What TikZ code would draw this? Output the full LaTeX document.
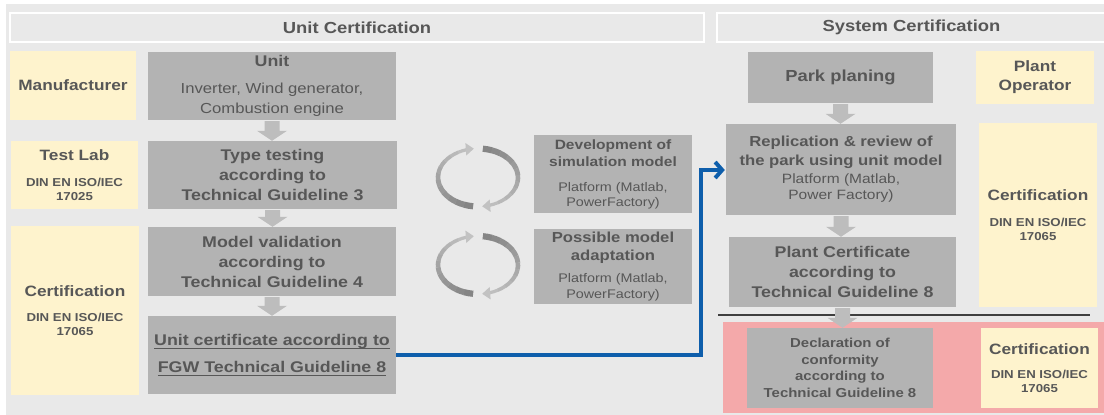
\documentclass[tikz,border=0pt]{standalone}
\usepackage{fontspec}
\setmainfont{Liberation Sans}[FakeStretch=1.15]
\usetikzlibrary{arrows.meta,calc}

\definecolor{bg}{HTML}{E9E9E9}
\definecolor{boxgrey}{HTML}{B3B3B3}
\definecolor{arrgrey}{HTML}{BDBDBD}
\definecolor{roleyellow}{HTML}{FEF3CD}
\definecolor{txt}{HTML}{575757}
\definecolor{conf}{HTML}{F4A9AA}
\definecolor{flow}{HTML}{0E5EAB}
\definecolor{sepdark}{HTML}{3F3F3F}
\definecolor{loopdark}{HTML}{858585}
\definecolor{looplight}{HTML}{C2C2C2}

% underlined text with a thicker rule
\newcommand\ulin[1]{\setbox0=\hbox{#1}\rlap{\rule[-3.5pt]{\wd0}{1.3pt}}\box0}
\newcommand\rolehead{\fontsize{15}{15}\selectfont}
\newcommand\devhead{\fontsize{13.5}{15}\selectfont\bfseries}
\newcommand\posshead{\fontsize{14.5}{15}\selectfont\bfseries}
\newcommand\replhead{\fontsize{14.5}{17}\selectfont\bfseries}

% broad grey arrow from the bottom of one box to the top of the next
\newcommand\blockarrow[2]{%
  \path (#1.south) coordinate (ba-s) (#2.north) coordinate (ba-e);
  \coordinate (ba-t) at (ba-s|-ba-e);
  \fill[arrgrey] ($(ba-s)+(-7.5,1)$) -- ($(ba-t)+(-7.5,-10)$) -- ($(ba-t)+(-15,-10)$)
    -- (ba-t) -- ($(ba-t)+(15,-10)$) -- ($(ba-t)+(7.5,-10)$) -- ($(ba-s)+(7.5,1)$) -- cycle;}

% one tapered arc arrow around a centre, darker and wider at its start
\newcommand\taperarc[2]{% #1 centre, #2 start angle
  \foreach \i in {0,...,11} {
    \pgfmathsetmacro\ta{#2+\i*13}
    \pgfmathsetmacro\tb{\ta+13.5}
    \pgfmathsetmacro\tw{6.2-\i*0.27}
    \pgfmathsetmacro\tm{100-\i*8.5}
    \draw[loopdark!\tm!looplight, line width=\tw pt] (#1) ++(\ta:40 and 29)
      arc[start angle=\ta, end angle=\tb, x radius=40, y radius=29];
  }
  \pgfmathsetmacro\tc{#2+155}
  \pgfmathsetmacro\td{#2+167}
  \draw[looplight, line width=3pt, -{Triangle[width=12pt,length=8pt]}] (#1) ++(\tc:40 and 29)
    arc[start angle=\tc, end angle=\td, x radius=40, y radius=29];}

% pair of circling arrows
\newcommand\looparrows[1]{\taperarc{#1}{97}\taperarc{#1}{-83}}

\begin{document}
\begin{tikzpicture}[x=1pt,y=-1pt,
  base/.style={inner sep=0pt, align=center, text=txt},
  stepbox/.style={base, fill=boxgrey},
  rolebox/.style={base, fill=roleyellow},
  header/.style={draw=white, line width=2.5pt, fill=bg, text=txt, inner sep=0pt,
    font=\fontsize{16}{16}\selectfont\bfseries},
  sz/.style 2 args={minimum width=#1pt, minimum height=#2pt},
  flowline/.style={draw=flow, line width=4pt, -{Straight Barb[length=7pt,width=16pt]}},
  rolesmall/.style={font=\fontsize{11.5}{14}\selectfont\bfseries}]

\useasboundingbox (0,0) rectangle (1104,415);
\fill[white] (0,0) rectangle (1104,415);
\fill[bg] (6,4) rectangle (1104,415);

% section headers
\node[header, sz={694}{29}] (unithead) at (357,27.5) {Unit Certification};
\node[header, sz={389}{29}] (syshead) at (911.5,27.5) {System Certification};

% conformity zone and separator
\node[fill=conf, inner sep=0pt, sz={383}{91}] (confzone) at (914.5,367.5) {};
\draw[sepdark, line width=2pt] (718,315) -- (1090,315);

% roles
\node[rolebox, sz={126}{69}, font=\fontsize{15}{15}\selectfont\bfseries] (maker) at (73,85.5) {Manufacturer};
\node[rolebox, rolesmall, sz={127}{68}] (testlab) at (74.5,175) {\rolehead Test Lab\\[12pt]DIN EN ISO/IEC\\17025};
\node[rolebox, rolesmall, sz={128}{169}] (certunit) at (75,310.5) {\rolehead Certification\\[11pt]DIN EN ISO/IEC\\17065};
\node[rolebox, sz={118}{53}, font=\fontsize{15}{19}\selectfont\bfseries] (operator) at (1035,77.5) {Plant\\Operator};
\node[rolebox, rolesmall, sz={118}{184}] (certplant) at (1038,215) {\rolehead Certification\\[12pt]DIN EN ISO/IEC\\17065};
\node[rolebox, rolesmall, sz={117}{80}] (certconf) at (1039.5,368) {\rolehead Certification\\[10pt]DIN EN ISO/IEC\\17065};

% unit certification steps
\node[stepbox, sz={248}{68}, font=\fontsize{14.5}{20}\selectfont] (unit) at (272,86)
  {\textbf{\fontsize{15.5}{20}\selectfont Unit}\\[7pt]Inverter, Wind generator,\\Combustion engine};
\node[stepbox, sz={249}{68}, font=\fontsize{15.5}{20}\selectfont\bfseries] (typetest) at (272.5,175)
  {Type testing\\according to\\Technical Guideline 3};
\node[stepbox, sz={248}{69}, font=\fontsize{15.5}{20}\selectfont\bfseries] (modelval) at (272,261.5)
  {Model validation\\according to\\Technical Guideline 4};
\node[stepbox, sz={248}{78}, font=\fontsize{15.5}{27}\selectfont\bfseries] (ucert) at (272,355)
  {\ulin{Unit certificate according to}\\\ulin{FGW Technical Guideline 8}};

% simulation model steps
\node[stepbox, sz={158}{78}, font=\fontsize{12.5}{15}\selectfont] (simdev) at (613,174)
  {\devhead Development of\\[2pt]\devhead simulation model\\[10pt]Platform (Matlab,\\PowerFactory)};
\node[stepbox, sz={158}{75}, font=\fontsize{12.5}{15}\selectfont] (adapt) at (613,266.5)
  {\posshead Possible model\\[3pt]\posshead adaptation\\[7pt]Platform (Matlab,\\[1pt]PowerFactory)};

% system certification steps
\node[stepbox, sz={185}{51}, font=\fontsize{16}{16}\selectfont\bfseries] (park) at (840.5,77.5) {Park planing};
\node[stepbox, sz={230}{91}, font=\fontsize{13.5}{17}\selectfont] (repl) at (841,169.5)
  {\replhead Replication \& review of\\[2pt]\replhead the park using unit model\\[1pt]Platform (Matlab,\\[-1pt]Power Factory)};
\node[stepbox, sz={227}{70}, font=\fontsize{15.5}{20}\selectfont\bfseries] (plantcert) at (842.5,272)
  {Plant Certificate\\according to\\Technical Guideline 8};
\node[stepbox, sz={186}{80}, font=\fontsize{13}{16.5}\selectfont\bfseries] (decl) at (840,368)
  {Declaration of\\conformity\\according to\\Technical Guideline 8};

% iteration loops
\coordinate (loopA) at (478,177.5);
\coordinate (loopB) at (478,265);
\looparrows{loopA}
\looparrows{loopB}

% flow arrows
\blockarrow{unit}{typetest}
\blockarrow{typetest}{modelval}
\blockarrow{modelval}{ucert}
\blockarrow{park}{repl}
\blockarrow{repl}{plantcert}
\blockarrow{plantcert}{decl}

\coordinate (flowbend) at (701,170);
\draw[flowline, shorten >=1pt] (ucert.east) -| (flowbend) -- (flowbend -| repl.west);
\end{tikzpicture}
\end{document}
